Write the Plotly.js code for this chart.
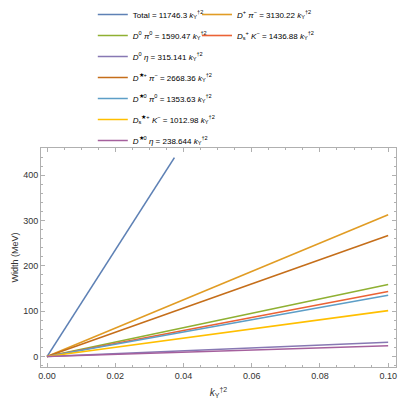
<!DOCTYPE html>
<html>
<head>
<meta charset="utf-8">
<script src="https://cdn.plot.ly/plotly-3.0.1.min.js"></script>
<style>
  html, body { margin: 0; padding: 0; background: #fff; }
  #plot { width: 407px; height: 399px; }
</style>
</head>
<body>
<div id="plot"></div>
<script>
// decay channels, widths are slope * k_Y^{†2}
let channels = [
    "Total",
    "<i>D</i><sup>+</sup> <i>π</i><sup>−</sup>",
    "<i>D</i><sup>0</sup> <i>π</i><sup>0</sup>",
    "<i>D</i><sub>s</sub><sup>+</sup> <i>K</i><sup>−</sup>",
    "<i>D</i><sup>0</sup> <i>η</i>",
    "<i>D</i><sup>★+</sup> <i>π</i><sup>−</sup>",
    "<i>D</i><sup>★0</sup> <i>π</i><sup>0</sup>",
    "<i>D</i><sub>s</sub><sup>★+</sup> <i>K</i><sup>−</sup>",
    "<i>D</i><sup>★0</sup> <i>η</i>"
];
let slopes = [11746.3, 3130.22, 1590.47, 1436.88, 315.141, 2668.36, 1353.63, 1012.98, 238.644];
let slopeText = ["11746.3", "3130.22", "1590.47", "1436.88", "315.141", "2668.36", "1353.63", "1012.98", "238.644"];
// where each curve stops (Total gets cut by the plot range)
let xStart = [0, 0, 0, 0, 0, 0, 0, 0, 0];
let xEnd = [0.03735, 0.1, 0.1, 0.1, 0.1, 0.1, 0.1, 0.1, 0.1];
let colors = ["#5E81B5", "#E19C24", "#8FB032", "#EB6235", "#8778B3", "#C56E1A", "#5D9EC7", "#FFBF00", "#A5609D"];
// which legend box each entry goes to
let legendOf = ["legend", "legend2", "legend", "legend2", "legend", "legend", "legend", "legend", "legend"];

let data = channels.map(function (name, i) {
    let xs = [xStart[i], xEnd[i]];
    return {
        x: xs,
        y: xs.map(function (k) { return slopes[i] * k; }),
        mode: "lines",
        type: "scatter",
        name: name + " = " + slopeText[i] + " <i>k</i><sub>Y</sub><sup>†2</sup>",
        legend: legendOf[i],
        legendgroup: "g" + i,
        line: { color: colors[i], width: 1.6 },
        hoverinfo: "skip"
    };
});

let legendStyle = {
    xref: "container", yref: "container",
    yanchor: "top", xanchor: "left",
    bgcolor: "rgba(0,0,0,0)",
    font: { family: "Liberation Sans, Arial, sans-serif", size: 8, color: "#000" },
    tracegroupgap: 2,
    itemwidth: 30
};

let axisStyle = {
    showline: true, linecolor: "#b0b0b0", linewidth: 1,
    mirror: "allticks",
    ticks: "inside", ticklen: 4, tickcolor: "#b0b0b0",
    showgrid: false, zeroline: false,
    automargin: false,
    tickfont: { family: "Liberation Sans, Arial, sans-serif", size: 9, color: "#333" }
};

let layout = {
    width: 407, height: 399,
    margin: { l: 41, r: 11, t: 148, b: 32, autoexpand: false },
    paper_bgcolor: "#fff", plot_bgcolor: "#fff",
    showlegend: true,
    legend: Object.assign({}, legendStyle, { x: 0.228, y: 1.01 }),
    legend2: Object.assign({}, legendStyle, { x: 0.484, y: 1.01 }),
    xaxis: Object.assign({}, axisStyle, {
        range: [-0.00176, 0.1023],
        tickvals: [0, 0.02, 0.04, 0.06, 0.08, 0.1],
        ticktext: ["0.00", "0.02", "0.04", "0.06", "0.08", "0.10"],
        minor: { ticks: "inside", dtick: 0.005, ticklen: 2, tickcolor: "#b0b0b0" },
        title: {
            text: "<i>k</i><sub>Y</sub><sup>†2</sup>",
            font: { family: "Liberation Sans, Arial, sans-serif", size: 10, color: "#333" }
        }
    }),
    yaxis: Object.assign({}, axisStyle, {
        range: [-23, 460],
        tickvals: [0, 100, 200, 300, 400],
        minor: { ticks: "inside", dtick: 20, ticklen: 2, tickcolor: "#b0b0b0" }
    }),
    annotations: [{
        text: "Width (MeV)",
        xref: "paper", yref: "paper",
        x: -0.076, y: 0.5,
        textangle: -90, showarrow: false,
        xanchor: "center", yanchor: "middle",
        font: { family: "Liberation Sans, Arial, sans-serif", size: 9, color: "#333" }
    }]
};

Plotly.newPlot("plot", data, layout, { displayModeBar: false, staticPlot: true });
</script>
</body>
</html>
